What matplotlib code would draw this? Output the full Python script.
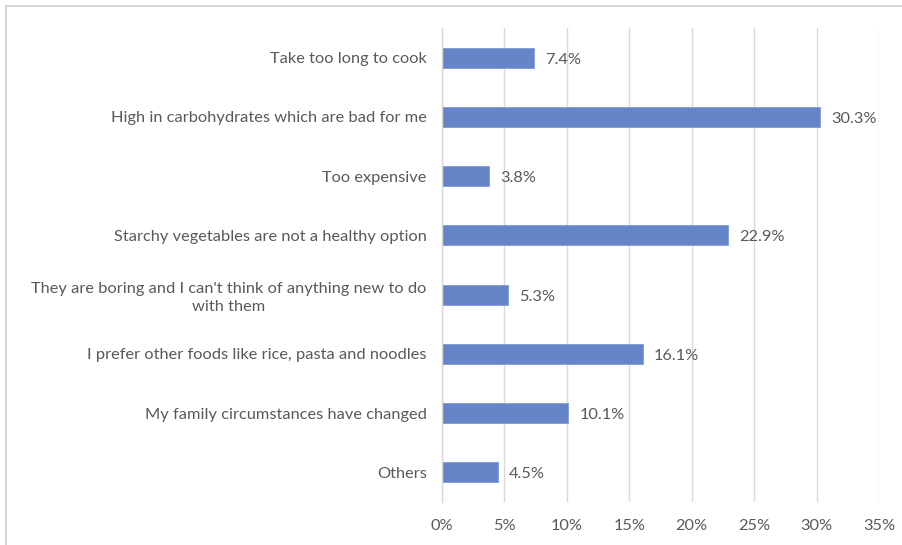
import matplotlib
matplotlib.use("Agg")
import matplotlib.pyplot as plt
from matplotlib.patches import Rectangle

categories = [
    "Take too long to cook",
    "High in carbohydrates which are bad for me",
    "Too expensive",
    "Starchy vegetables are not a healthy option",
    "They are boring and I can't think of anything new to do\nwith them",
    "I prefer other foods like rice, pasta and noodles",
    "My family circumstances have changed",
    "Others",
]
values = [7.4, 30.3, 3.8, 22.9, 5.3, 16.1, 10.1, 4.5]
xticks = [0, 5, 10, 15, 20, 25, 30, 35]
xticklabels = ["0%", "5%", "10%", "15%", "20%", "25%", "30%", "35%"]

plt.rcParams['font.family'] = ['Lato', 'DejaVu Sans']
text_color = '#595959'
bar_color = '#6585c8'
fs = 11.8

fig = plt.figure(figsize=(9.03, 5.45), dpi=100)
ax = fig.add_axes([442/903, 1 - 502/545, (879-442)/903, (502-28)/545])

y = list(range(len(categories)))
ax.barh(y, values, height=0.34, color=bar_color, edgecolor='#7f9bd4', linewidth=0.6, zorder=3)
ax.set_ylim(len(categories) - 0.5, -0.5)
ax.set_xlim(0, 35)
ax.set_xticks(xticks)
ax.set_xticklabels(xticklabels, color=text_color, fontsize=fs)
ax.set_yticks(y)
ax.set_yticklabels(categories, color=text_color, fontsize=fs, multialignment='center', linespacing=1.35)
for lbl in ax.get_yticklabels():
    lbl.set_horizontalalignment('right')
ax.tick_params(axis='y', length=0, pad=11)
ax.tick_params(axis='x', length=0, pad=12)
ax.grid(axis='x', color='#d9d9d9', linewidth=1, zorder=0)
for s in ['top', 'right', 'bottom']:
    ax.spines[s].set_visible(False)
ax.spines['left'].set_color('#d9d9d9')
ax.spines['left'].set_linewidth(1)
ax.spines['left'].set_zorder(4)

for yi, v in zip(y, values):
    ax.annotate(f"{v:.1f}%", xy=(v, yi), xytext=(8, -1.5), textcoords='offset points',
                va='center', ha='left', color=text_color, fontsize=fs)

fig.patches.append(Rectangle((6/903, -0.05), 1, 1.05 - 6/545, transform=fig.transFigure,
                             fill=False, edgecolor='#d0d0d0', linewidth=1.2, figure=fig))

fig.savefig("out.png", dpi=100)
